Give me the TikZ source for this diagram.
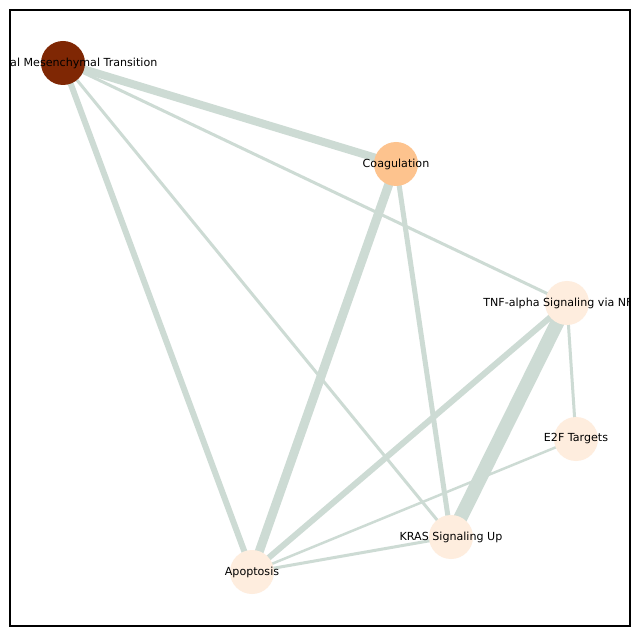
\documentclass[tikz,border=0pt]{standalone}
\usepackage{fontspec}
\setmainfont{DejaVu Sans}
\definecolor{edgec}{RGB}{205,219,212}
\definecolor{emtc}{RGB}{127,39,4}
\definecolor{coagc}{RGB}{253,195,142}
\definecolor{lightc}{RGB}{254,237,222}
\begin{document}
\begin{tikzpicture}[x=1pt,y=-1pt,
  vert/.style={circle,minimum size=44pt,inner sep=0pt},
  lbl/.style={font=\fontsize{11.1}{13}\selectfont,text=black,inner sep=0pt},
  edge/.style={draw=edgec,line cap=butt}]
\useasboundingbox (0,0) rectangle (640,636);
\fill[white] (0,0) rectangle (640,636);
\coordinate (EMT) at (63,63);
\coordinate (COAG) at (396,164);
\coordinate (TNF) at (567,303);
\coordinate (E2F) at (576,439);
\coordinate (KRAS) at (451,537);
\coordinate (APO) at (252,572);
\begin{scope}
\clip (10,10) rectangle (630,626);
\draw[edge,line width=3] (EMT) -- (TNF);
\draw[edge,line width=3] (EMT) -- (KRAS);
\draw[edge,line width=6] (EMT) -- (APO);
\draw[edge,line width=8] (EMT) -- (COAG);
\draw[edge,line width=9] (COAG) -- (APO);
\draw[edge,line width=5] (COAG) -- (KRAS);
\draw[edge,line width=6] (TNF) -- (APO);
\draw[edge,line width=14] (TNF) -- (KRAS);
\draw[edge,line width=3] (TNF) -- (E2F);
\draw[edge,line width=2.5] (E2F) -- (APO);
\draw[edge,line width=3] (KRAS) -- (APO);
\node[vert,fill=emtc] (nEMT) at (EMT) {};
\node[vert,fill=coagc] (nCOAG) at (COAG) {};
\node[vert,fill=lightc] (nTNF) at (TNF) {};
\node[vert,fill=lightc] (nE2F) at (E2F) {};
\node[vert,fill=lightc] (nKRAS) at (KRAS) {};
\node[vert,fill=lightc] (nAPO) at (APO) {};
\node[lbl] (tEMT) at (EMT) {Epithelial Mesenchymal Transition};
\node[lbl] (tCOAG) at (COAG) {Coagulation};
\node[lbl] (tTNF) at (TNF) {TNF-alpha Signaling via NF-kB};
\node[lbl] (tE2F) at (E2F) {E2F Targets};
\node[lbl] (tKRAS) at (KRAS) {KRAS Signaling Up};
\node[lbl] (tAPO) at (APO) {Apoptosis};
\end{scope}
\draw[black,line width=1.1] (10,10) rectangle (630,626);
\end{tikzpicture}
\end{document}
